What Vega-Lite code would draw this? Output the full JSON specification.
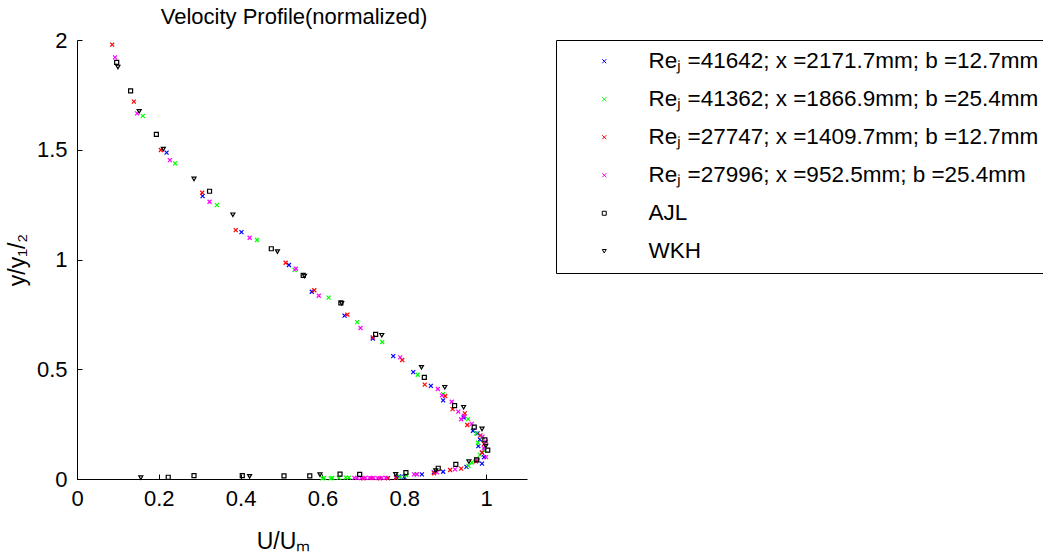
{
  "$schema": "https://vega.github.io/schema/vega-lite/v6.json",
  "autosize": {"type": "none"},
  "width": 450,
  "height": 439,
  "padding": {"left": 77, "top": 40, "right": 516, "bottom": 77},
  "background": "white",
  "title": {"text": "Velocity Profile(normalized)", "font": "Liberation Sans", "fontSize": 22, "fontWeight": "normal", "color": "black", "anchor": "middle", "offset": 0, "dx": -8},
  "config": {
    "view": {"stroke": null},
    "font": "Liberation Sans",
    "axis": {"grid": false, "domainColor": "black", "tickColor": "black", "labelColor": "black", "titleColor": "black", "labelFont": "Liberation Sans", "titleFont": "Liberation Sans", "labelFontSize": 22, "titleFontSize": 23, "titleFontWeight": "normal", "tickSize": -5, "domainWidth": 1, "tickWidth": 1}
  },
  "data": {"values": [
    {"u":0.219,"y":1.487,"s":"A"},{"u":0.307,"y":1.289,"s":"A"},{"u":0.402,"y":1.125,"s":"A"},{"u":0.518,"y":0.975,"s":"A"},{"u":0.574,"y":0.853,"s":"A"},{"u":0.654,"y":0.744,"s":"A"},{"u":0.723,"y":0.640,"s":"A"},{"u":0.773,"y":0.560,"s":"A"},{"u":0.822,"y":0.487,"s":"A"},{"u":0.865,"y":0.424,"s":"A"},{"u":0.895,"y":0.358,"s":"A"},{"u":0.945,"y":0.280,"s":"A"},{"u":0.968,"y":0.220,"s":"A"},{"u":0.979,"y":0.208,"s":"A"},{"u":0.985,"y":0.180,"s":"A"},{"u":0.981,"y":0.150,"s":"A"},{"u":0.990,"y":0.120,"s":"A"},{"u":0.995,"y":0.100,"s":"A"},{"u":0.990,"y":0.070,"s":"A"},{"u":0.952,"y":0.055,"s":"A"},{"u":0.895,"y":0.033,"s":"A"},{"u":0.872,"y":0.030,"s":"A"},{"u":0.843,"y":0.021,"s":"A"},{"u":0.800,"y":0.010,"s":"A"},{"u":0.787,"y":0.012,"s":"A"},{"u":0.780,"y":0.008,"s":"A"},{"u":0.760,"y":0.004,"s":"A"},
    {"u":0.161,"y":1.654,"s":"B"},{"u":0.240,"y":1.438,"s":"B"},{"u":0.342,"y":1.248,"s":"B"},{"u":0.440,"y":1.089,"s":"B"},{"u":0.532,"y":0.952,"s":"B"},{"u":0.615,"y":0.826,"s":"B"},{"u":0.685,"y":0.715,"s":"B"},{"u":0.746,"y":0.624,"s":"B"},{"u":0.833,"y":0.475,"s":"B"},{"u":0.895,"y":0.387,"s":"B"},{"u":0.956,"y":0.273,"s":"B"},{"u":0.976,"y":0.208,"s":"B"},{"u":0.990,"y":0.190,"s":"B"},{"u":0.980,"y":0.165,"s":"B"},{"u":0.995,"y":0.130,"s":"B"},{"u":0.985,"y":0.110,"s":"B"},{"u":0.975,"y":0.090,"s":"B"},{"u":0.965,"y":0.075,"s":"B"},{"u":0.957,"y":0.060,"s":"B"},{"u":0.830,"y":0.022,"s":"B"},{"u":0.805,"y":0.017,"s":"B"},{"u":0.790,"y":0.010,"s":"B"},{"u":0.665,"y":0.006,"s":"B"},{"u":0.657,"y":0.006,"s":"B"},{"u":0.640,"y":0.005,"s":"B"},{"u":0.624,"y":0.005,"s":"B"},{"u":0.604,"y":0.005,"s":"B"},{"u":0.600,"y":0.003,"s":"B"},{"u":0.620,"y":0.003,"s":"B"},
    {"u":0.086,"y":1.979,"s":"C"},{"u":0.139,"y":1.719,"s":"C"},{"u":0.205,"y":1.499,"s":"C"},{"u":0.306,"y":1.304,"s":"C"},{"u":0.388,"y":1.134,"s":"C"},{"u":0.510,"y":0.985,"s":"C"},{"u":0.580,"y":0.860,"s":"C"},{"u":0.661,"y":0.749,"s":"C"},{"u":0.723,"y":0.645,"s":"C"},{"u":0.795,"y":0.542,"s":"C"},{"u":0.850,"y":0.430,"s":"C"},{"u":0.900,"y":0.378,"s":"C"},{"u":0.918,"y":0.318,"s":"C"},{"u":0.948,"y":0.299,"s":"C"},{"u":0.954,"y":0.246,"s":"C"},{"u":0.986,"y":0.199,"s":"C"},{"u":0.995,"y":0.160,"s":"C"},{"u":0.990,"y":0.120,"s":"C"},{"u":0.975,"y":0.080,"s":"C"},{"u":0.939,"y":0.047,"s":"C"},{"u":0.912,"y":0.041,"s":"C"},{"u":0.873,"y":0.026,"s":"C"},{"u":0.780,"y":0.005,"s":"C"},{"u":0.760,"y":0.004,"s":"C"},{"u":0.740,"y":0.003,"s":"C"},{"u":0.720,"y":0.004,"s":"C"},{"u":0.700,"y":0.003,"s":"C"},
    {"u":0.093,"y":1.921,"s":"D"},{"u":0.147,"y":1.666,"s":"D"},{"u":0.227,"y":1.453,"s":"D"},{"u":0.324,"y":1.263,"s":"D"},{"u":0.422,"y":1.099,"s":"D"},{"u":0.535,"y":0.958,"s":"D"},{"u":0.591,"y":0.835,"s":"D"},{"u":0.693,"y":0.688,"s":"D"},{"u":0.790,"y":0.554,"s":"D"},{"u":0.882,"y":0.410,"s":"D"},{"u":0.892,"y":0.381,"s":"D"},{"u":0.916,"y":0.352,"s":"D"},{"u":0.932,"y":0.307,"s":"D"},{"u":0.946,"y":0.287,"s":"D"},{"u":0.939,"y":0.272,"s":"D"},{"u":0.965,"y":0.251,"s":"D"},{"u":0.991,"y":0.193,"s":"D"},{"u":1.000,"y":0.170,"s":"D"},{"u":0.995,"y":0.140,"s":"D"},{"u":1.000,"y":0.100,"s":"D"},{"u":0.980,"y":0.085,"s":"D"},{"u":0.924,"y":0.044,"s":"D"},{"u":0.880,"y":0.030,"s":"D"},{"u":0.831,"y":0.021,"s":"D"},{"u":0.824,"y":0.021,"s":"D"},{"u":0.755,"y":0.005,"s":"D"},{"u":0.745,"y":0.005,"s":"D"},{"u":0.735,"y":0.004,"s":"D"},{"u":0.725,"y":0.005,"s":"D"},{"u":0.715,"y":0.005,"s":"D"},{"u":0.705,"y":0.005,"s":"D"},{"u":0.695,"y":0.004,"s":"D"},{"u":0.685,"y":0.005,"s":"D"},{"u":0.678,"y":0.005,"s":"D"},
    {"u":0.097,"y":1.898,"s":"AJL"},{"u":0.131,"y":1.768,"s":"AJL"},{"u":0.194,"y":1.570,"s":"AJL"},{"u":0.324,"y":1.311,"s":"AJL"},{"u":0.475,"y":1.049,"s":"AJL"},{"u":0.553,"y":0.928,"s":"AJL"},{"u":0.645,"y":0.802,"s":"AJL"},{"u":0.730,"y":0.659,"s":"AJL"},{"u":0.849,"y":0.463,"s":"AJL"},{"u":0.923,"y":0.334,"s":"AJL"},{"u":0.971,"y":0.236,"s":"AJL"},{"u":0.997,"y":0.178,"s":"AJL"},{"u":1.004,"y":0.132,"s":"AJL"},{"u":0.977,"y":0.087,"s":"AJL"},{"u":0.926,"y":0.067,"s":"AJL"},{"u":0.883,"y":0.049,"s":"AJL"},{"u":0.804,"y":0.029,"s":"AJL"},{"u":0.691,"y":0.021,"s":"AJL"},{"u":0.643,"y":0.022,"s":"AJL"},{"u":0.569,"y":0.014,"s":"AJL"},{"u":0.506,"y":0.014,"s":"AJL"},{"u":0.404,"y":0.015,"s":"AJL"},{"u":0.286,"y":0.015,"s":"AJL"},{"u":0.223,"y":0.008,"s":"AJL"},
    {"u":0.100,"y":1.877,"s":"WKH"},{"u":0.152,"y":1.675,"s":"WKH"},{"u":0.211,"y":1.503,"s":"WKH"},{"u":0.286,"y":1.367,"s":"WKH"},{"u":0.381,"y":1.204,"s":"WKH"},{"u":0.490,"y":1.036,"s":"WKH"},{"u":0.556,"y":0.925,"s":"WKH"},{"u":0.647,"y":0.800,"s":"WKH"},{"u":0.745,"y":0.655,"s":"WKH"},{"u":0.842,"y":0.509,"s":"WKH"},{"u":0.899,"y":0.418,"s":"WKH"},{"u":0.945,"y":0.327,"s":"WKH"},{"u":0.990,"y":0.228,"s":"WKH"},{"u":0.999,"y":0.150,"s":"WKH"},{"u":0.958,"y":0.079,"s":"WKH"},{"u":0.877,"y":0.038,"s":"WKH"},{"u":0.779,"y":0.021,"s":"WKH"},{"u":0.594,"y":0.020,"s":"WKH"},{"u":0.422,"y":0.012,"s":"WKH"},{"u":0.156,"y":0.006,"s":"WKH"}
  ]},
  "mark": {"type": "point", "filled": false, "strokeWidth": 1.2, "opacity": 1, "clip": false},
  "encoding": {
    "x": {"field": "u", "type": "quantitative", "scale": {"domain": [0, 1.1], "nice": false, "zero": false}, "axis": {"values": [0, 0.2, 0.4, 0.6, 0.8, 1], "format": "~g", "labelPadding": 14, "labelFlush": false, "title": "U/Uₘ", "titleX": 206, "titleY": 69, "titleBaseline": "alphabetic", "titleAnchor": "middle"}},
    "y": {"field": "y", "type": "quantitative", "scale": {"domain": [0, 2], "nice": false, "zero": false}, "axis": {"values": [0, 0.5, 1, 1.5, 2], "format": "~g", "labelPadding": 15, "labelFlush": false, "title": "y/y₁/₂", "titleX": -48, "titleAnchor": "middle"}},
    "color": {"field": "s", "type": "nominal", "scale": {"domain": ["A", "B", "C", "D", "AJL", "WKH"], "range": ["#0000ff", "#00ff00", "#ff0000", "#ff00ff", "#000000", "#000000"]},
      "legend": {"orient": "none", "legendX": 479, "legendY": 0, "title": null, "strokeColor": "black", "fillColor": "white", "padding": 10, "labelFont": "Liberation Sans", "labelFontSize": 22.5, "labelColor": "black", "labelLimit": 1000, "symbolSize": 30, "symbolStrokeWidth": 1, "symbolOffset": 27, "labelOffset": 33, "rowPadding": 15, "cornerRadius": 0,
        "labelExpr": "{'A':'Reⱼ =41642; x =2171.7mm; b =12.7mm','B':'Reⱼ =41362; x =1866.9mm; b =25.4mm','C':'Reⱼ =27747; x =1409.7mm; b =12.7mm','D':'Reⱼ =27996; x =952.5mm; b =25.4mm','AJL':'AJL','WKH':'WKH'}[datum.label]"}},
    "shape": {"field": "s", "type": "nominal", "scale": {"domain": ["A", "B", "C", "D", "AJL", "WKH"], "range": ["M-1,-1L1,1M-1,1L1,-1", "M-1,-1L1,1M-1,1L1,-1", "M-1,-1L1,1M-1,1L1,-1", "M-1,-1L1,1M-1,1L1,-1", "square", "triangle-down"]}},
    "size": {"field": "s", "type": "nominal", "legend": null, "scale": {"domain": ["A", "B", "C", "D", "AJL", "WKH"], "range": [16, 16, 16, 16, 81, 72]}}
  }
}
